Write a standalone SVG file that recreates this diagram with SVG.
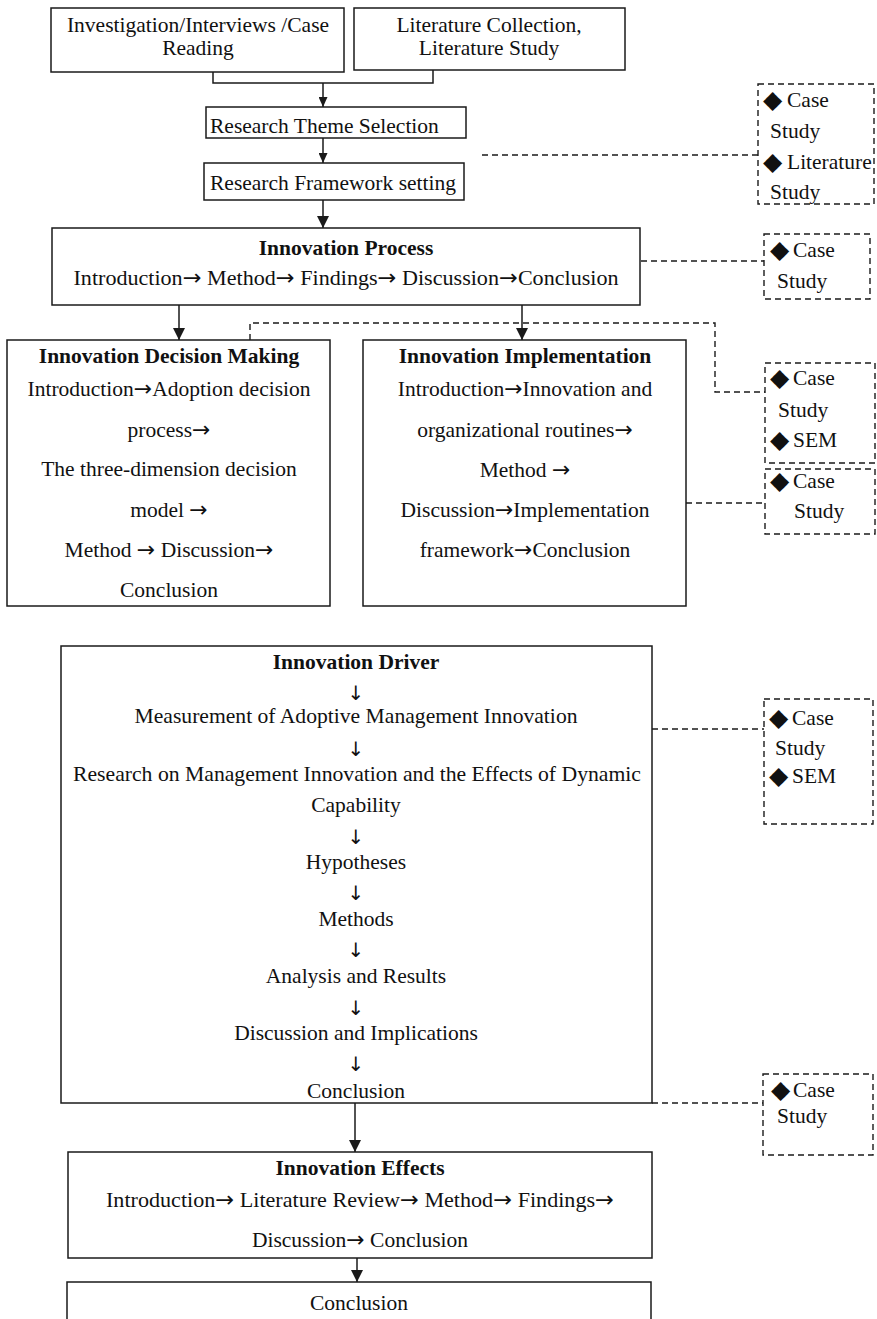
<svg xmlns="http://www.w3.org/2000/svg" width="877" height="1319" viewBox="0 0 877 1319">
  <style>
    .box { fill: #ffffff; stroke: #1a1a1a; stroke-width: 1.5; }
    .dbox { fill: none; stroke: #1a1a1a; stroke-width: 1.4; stroke-dasharray: 6 4; }
    .solid { fill: none; stroke: #1a1a1a; stroke-width: 1.5; }
    .dash { fill: none; stroke: #1a1a1a; stroke-width: 1.4; stroke-dasharray: 6 4; }
    text { font-family: "Liberation Serif", serif; font-size: 21.5px; fill: #111111; }
    .c { text-anchor: middle; }
    .b { font-weight: bold; }
    .ar { font-family: "DejaVu Sans", sans-serif; font-size: 22px; font-weight: normal; }
    .dn { font-family: "DejaVu Sans", sans-serif; font-size: 20px; }
    .dm { font-family: "DejaVu Sans", sans-serif; font-size: 25px; }
  </style>
  <defs>
    <marker id="arrowSm" markerUnits="userSpaceOnUse" markerWidth="10" markerHeight="9" viewBox="0 0 10 9" refX="10" refY="4.5" orient="auto">
      <path d="M0,0 L10,4.5 L0,9 z" fill="#1a1a1a"/>
    </marker>
    <marker id="arrowLg" markerUnits="userSpaceOnUse" markerWidth="12" markerHeight="12" viewBox="0 0 12 12" refX="12" refY="6" orient="auto">
      <path d="M0,0 L12,6 L0,12 z" fill="#1a1a1a"/>
    </marker>
  </defs>

  <!-- connectors -->
  <g id="connectors">
    <polyline class="solid" points="213,72 213,83 433,83 433,70"/>
    <line class="solid" x1="323" y1="83" x2="323" y2="107" marker-end="url(#arrowSm)"/>
    <line class="solid" x1="323" y1="138" x2="323" y2="163" marker-end="url(#arrowSm)"/>
    <line class="solid" x1="323" y1="200" x2="323" y2="228" marker-end="url(#arrowLg)"/>
    <line class="solid" x1="179" y1="305" x2="179" y2="340" marker-end="url(#arrowLg)"/>
    <line class="solid" x1="522" y1="305" x2="522" y2="340" marker-end="url(#arrowLg)"/>
    <line class="solid" x1="355" y1="1103" x2="355" y2="1152" marker-end="url(#arrowLg)"/>
    <line class="solid" x1="357" y1="1258" x2="357" y2="1282" marker-end="url(#arrowLg)"/>

    <line class="dash" x1="482" y1="155" x2="758" y2="155"/>
    <line class="dash" x1="641" y1="261" x2="764" y2="261"/>
    <polyline class="dash" points="250,340 250,323 715,323 715,392 765,392"/>
    <line class="dash" x1="686" y1="503" x2="765" y2="503"/>
    <line class="dash" x1="652" y1="729" x2="764" y2="729"/>
    <line class="dash" x1="652" y1="1103" x2="763" y2="1103"/>
  </g>

  <!-- source boxes -->
  <g id="investigation">
    <rect class="box" x="51" y="8" width="293" height="64"/>
    <text class="c" x="198" y="32">Investigation/Interviews /Case</text>
    <text class="c" x="198" y="55">Reading</text>
  </g>
  <g id="literature">
    <rect class="box" x="354" y="8" width="271" height="62"/>
    <text class="c" x="489" y="32">Literature Collection,</text>
    <text class="c" x="489" y="55">Literature Study</text>
  </g>

  <g id="theme">
    <rect class="box" x="206" y="107" width="260" height="31"/>
    <text x="210" y="133">Research Theme Selection</text>
  </g>
  <g id="framework">
    <rect class="box" x="204" y="163" width="260" height="37"/>
    <text x="210" y="190">Research Framework setting</text>
  </g>

  <g id="process">
    <rect class="box" x="52" y="228" width="588" height="77"/>
    <text class="c b" x="346" y="255">Innovation Process</text>
    <text class="c" x="346" y="285" textLength="545" lengthAdjust="spacingAndGlyphs">Introduction<tspan class="ar">→</tspan> Method<tspan class="ar">→</tspan> Findings<tspan class="ar">→</tspan> Discussion<tspan class="ar">→</tspan>Conclusion</text>
  </g>

  <g id="decision">
    <rect class="box" x="7" y="340" width="323" height="266"/>
    <text class="c b" x="169" y="363">Innovation Decision Making</text>
    <text class="c" x="169" y="396">Introduction<tspan class="ar">→</tspan>Adoption decision</text>
    <text class="c" x="169" y="437">process<tspan class="ar">→</tspan></text>
    <text class="c" x="169" y="476">The three-dimension decision</text>
    <text class="c" x="169" y="517">model <tspan class="ar">→</tspan></text>
    <text class="c" x="169" y="557">Method <tspan class="ar">→</tspan> Discussion<tspan class="ar">→</tspan></text>
    <text class="c" x="169" y="597">Conclusion</text>
  </g>

  <g id="implementation">
    <rect class="box" x="363" y="340" width="323" height="266"/>
    <text class="c b" x="525" y="363">Innovation Implementation</text>
    <text class="c" x="525" y="396">Introduction<tspan class="ar">→</tspan>Innovation and</text>
    <text class="c" x="525" y="437">organizational routines<tspan class="ar">→</tspan></text>
    <text class="c" x="525" y="477">Method <tspan class="ar">→</tspan></text>
    <text class="c" x="525" y="517">Discussion<tspan class="ar">→</tspan>Implementation</text>
    <text class="c" x="525" y="557">framework<tspan class="ar">→</tspan>Conclusion</text>
  </g>

  <g id="driver">
    <rect class="box" x="61" y="646" width="591" height="457"/>
    <text class="c b" x="356" y="669">Innovation Driver</text>
    <text class="c dn" x="356" y="700">↓</text>
    <text class="c" x="356" y="723" textLength="443" lengthAdjust="spacingAndGlyphs">Measurement of Adoptive Management Innovation</text>
    <text class="c dn" x="356" y="756">↓</text>
    <text class="c" x="357" y="781" textLength="568" lengthAdjust="spacingAndGlyphs">Research on Management Innovation and the Effects of Dynamic</text>
    <text class="c" x="356" y="812">Capability</text>
    <text class="c dn" x="356" y="844">↓</text>
    <text class="c" x="356" y="869">Hypotheses</text>
    <text class="c dn" x="356" y="900">↓</text>
    <text class="c" x="356" y="926">Methods</text>
    <text class="c dn" x="356" y="957">↓</text>
    <text class="c" x="356" y="983">Analysis and Results</text>
    <text class="c dn" x="356" y="1015">↓</text>
    <text class="c" x="356" y="1040">Discussion and Implications</text>
    <text class="c dn" x="356" y="1071">↓</text>
    <text class="c" x="356" y="1098">Conclusion</text>
  </g>

  <g id="effects">
    <rect class="box" x="68" y="1152" width="584" height="106"/>
    <text class="c b" x="360" y="1175">Innovation Effects</text>
    <text class="c" x="360" y="1207" textLength="508" lengthAdjust="spacingAndGlyphs">Introduction<tspan class="ar">→</tspan> Literature Review<tspan class="ar">→</tspan> Method<tspan class="ar">→</tspan> Findings<tspan class="ar">→</tspan></text>
    <text class="c" x="360" y="1247">Discussion<tspan class="ar">→</tspan> Conclusion</text>
  </g>

  <g id="conclusion">
    <rect class="box" x="67" y="1282" width="584" height="60"/>
    <text class="c" x="359" y="1310">Conclusion</text>
  </g>

  <!-- method notes -->
  <g id="note-framework">
    <rect class="dbox" x="758" y="84" width="116" height="120"/>
    <text class="dm" x="763" y="108">◆</text>
    <text x="787" y="107">Case</text>
    <text x="770" y="138">Study</text>
    <text class="dm" x="763" y="170">◆</text>
    <text x="787" y="169">Literature</text>
    <text x="770" y="199">Study</text>
  </g>
  <g id="note-process">
    <rect class="dbox" x="764" y="234" width="106" height="65"/>
    <text class="dm" x="770" y="258">◆</text>
    <text x="793" y="257">Case</text>
    <text x="777" y="288">Study</text>
  </g>
  <g id="note-decision">
    <rect class="dbox" x="765" y="363" width="110" height="100"/>
    <text class="dm" x="770" y="386">◆</text>
    <text x="793" y="385">Case</text>
    <text x="778" y="417">Study</text>
    <text class="dm" x="770" y="448">◆</text>
    <text x="793" y="447">SEM</text>
  </g>
  <g id="note-implementation">
    <rect class="dbox" x="765" y="469" width="110" height="65"/>
    <text class="dm" x="770" y="489">◆</text>
    <text x="793" y="488">Case</text>
    <text x="794" y="518">Study</text>
  </g>
  <g id="note-driver">
    <rect class="dbox" x="764" y="699" width="109" height="125"/>
    <text class="dm" x="769" y="726">◆</text>
    <text x="792" y="725">Case</text>
    <text x="775" y="755">Study</text>
    <text class="dm" x="769" y="784">◆</text>
    <text x="792" y="783">SEM</text>
  </g>
  <g id="note-effects">
    <rect class="dbox" x="763" y="1074" width="110" height="81"/>
    <text class="dm" x="771" y="1098">◆</text>
    <text x="793" y="1097">Case</text>
    <text x="777" y="1123">Study</text>
  </g>
</svg>
